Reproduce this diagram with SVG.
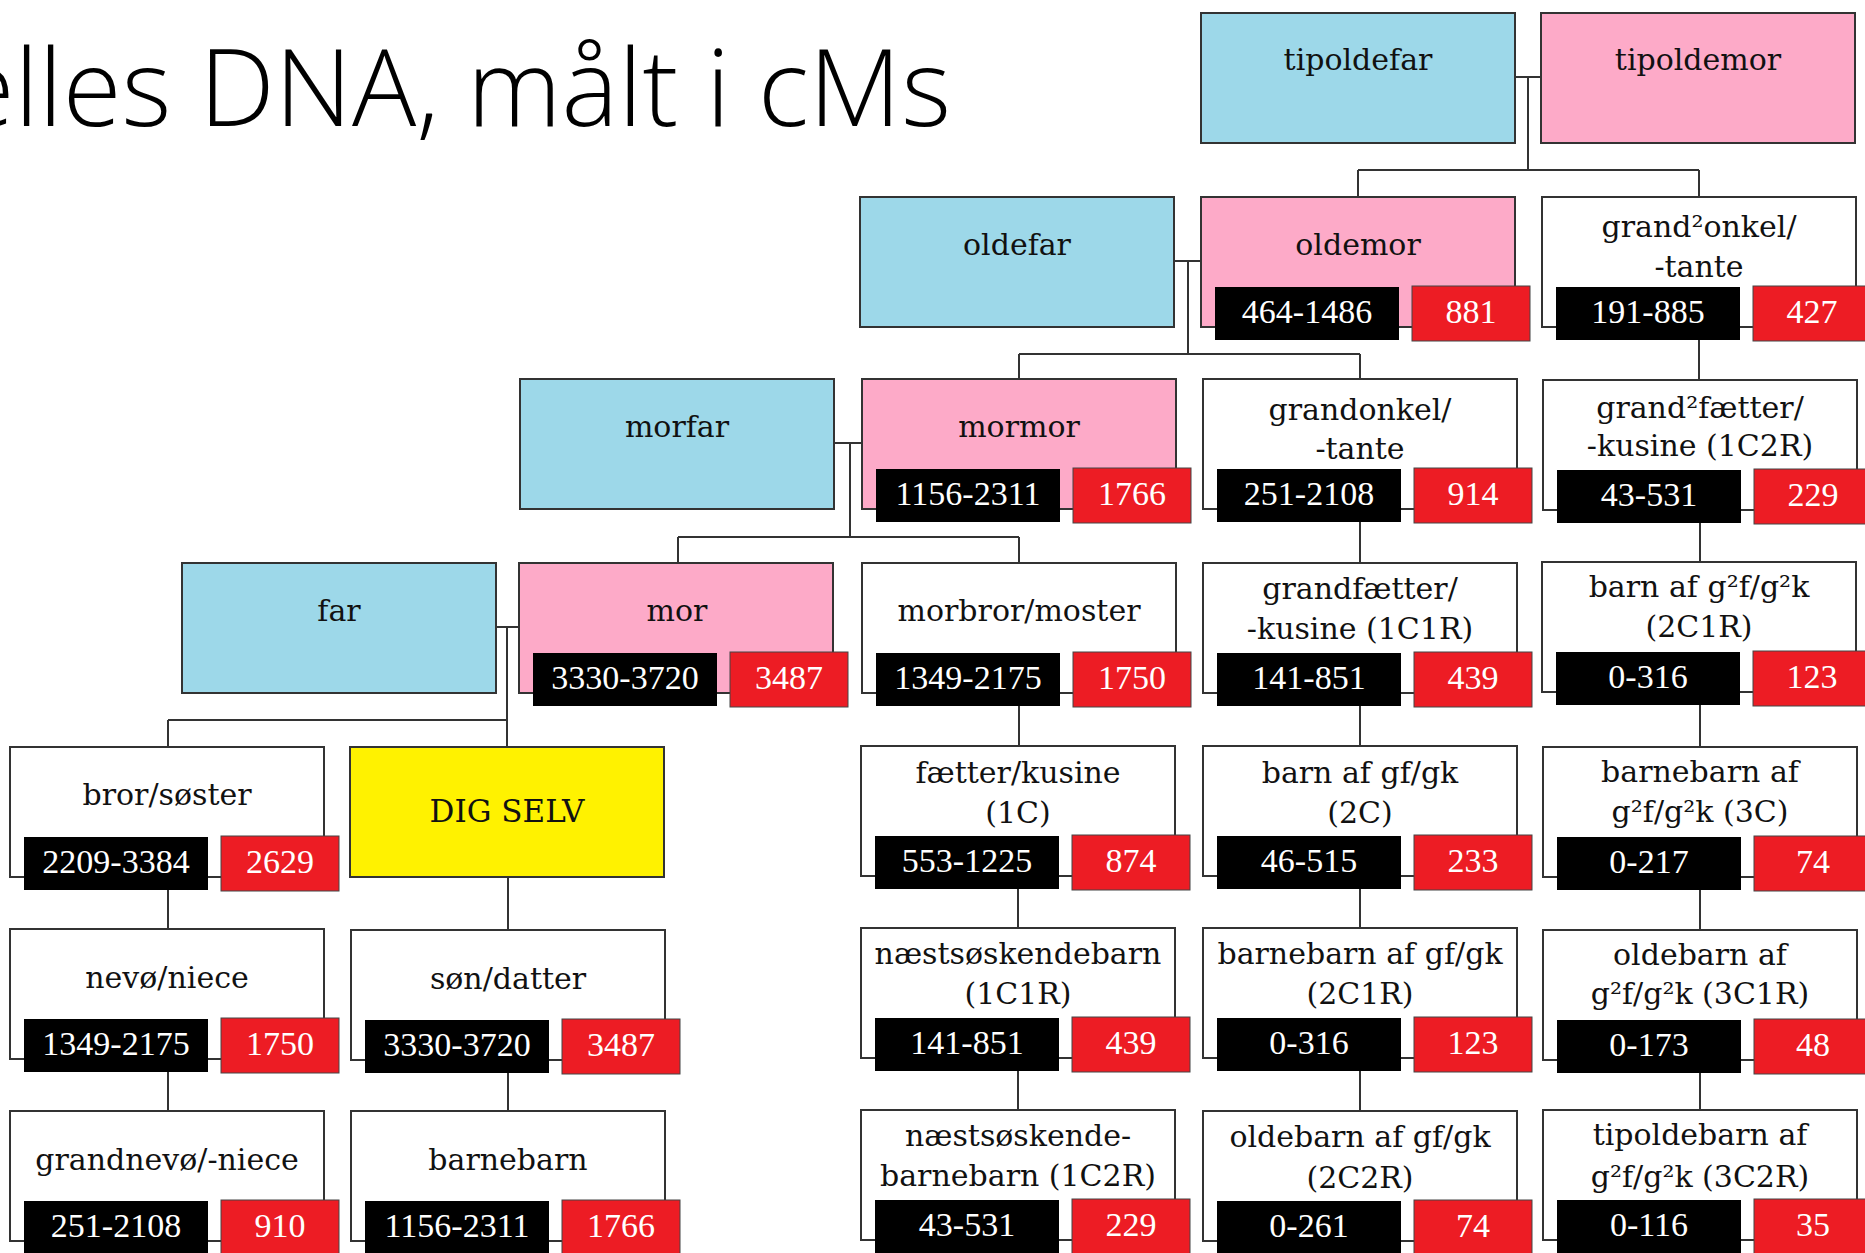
<svg xmlns="http://www.w3.org/2000/svg" width="1865" height="1253" viewBox="0 0 1865 1253">
<style>
.box{stroke:#333;stroke-width:2}
.blue{fill:#9dd8e9}
.pink{fill:#fdaac8}
.white{fill:#fff}
.yellow{fill:#fff200}
.bk{fill:#000}
.rd{fill:#ed1c24;stroke:#444;stroke-width:1}
.lbl{font-family:"DejaVu Serif",serif;font-size:30px;fill:#111;text-anchor:middle}
.num{font-family:"Liberation Serif",serif;font-size:34px;fill:#fff;text-anchor:middle}
.con{stroke:#333;stroke-width:2;fill:none}
.title{font-family:"Open Sans","Liberation Sans",sans-serif;font-weight:300;font-size:107px;fill:#000;text-anchor:end}
</style>
<rect width="1865" height="1253" fill="#fff"/>
<text class="title" x="951" y="126">elles DNA, målt i cMs</text>

<g id="connectors" class="con">
<path d="M1515,77 H1541 M1528,77 V170 M1358,170 H1699 M1358,170 V197 M1699,170 V197"/>
<path d="M1174,261 H1201 M1188,261 V354 M1019,354 H1360 M1019,354 V379 M1360,354 V379"/>
<path d="M834,443 H862 M850,443 V537 M678,537 H1019 M678,537 V563 M1019,537 V563"/>
<path d="M496,627 H519 M507,627 V747 M168,720 H507 M168,720 V747"/>
<path d="M168,877 V929 M168,1059 V1111"/>
<path d="M508,877 V930 M508,1060 V1111"/>
<path d="M1019,693 V746 M1018,876 V928 M1018,1058 V1110"/>
<path d="M1360,509 V563 M1360,693 V746 M1360,876 V928 M1360,1058 V1111"/>
<path d="M1699,327 V380 M1700,510 V562 M1700,692 V747 M1700,877 V930 M1700,1060 V1110"/>
</g>

<g id="tipoldefar"><rect class="box blue" x="1201" y="13" width="314" height="130"/><text class="lbl" x="1358" y="70">tipoldefar</text></g>
<g id="tipoldemor"><rect class="box pink" x="1541" y="13" width="314" height="130"/><text class="lbl" x="1698" y="70">tipoldemor</text></g>

<g id="oldefar"><rect class="box blue" x="860" y="197" width="314" height="130"/><text class="lbl" x="1017" y="255">oldefar</text></g>
<g id="oldemor"><rect class="box pink" x="1201" y="197" width="314" height="130"/><text class="lbl" x="1358" y="255">oldemor</text>
<rect class="bk" x="1215" y="287" width="184" height="53"/><text class="num" x="1307" y="323">464-1486</text>
<rect class="rd" x="1412" y="286" width="118" height="55"/><text class="num" x="1471" y="323">881</text></g>
<g id="grand2onkel"><rect class="box white" x="1542" y="197" width="314" height="130"/><text class="lbl" x="1699" y="237">grand²onkel/</text><text class="lbl" x="1699" y="277">-tante</text>
<rect class="bk" x="1556" y="287" width="184" height="53"/><text class="num" x="1648" y="323">191-885</text>
<rect class="rd" x="1753" y="286" width="118" height="55"/><text class="num" x="1812" y="323">427</text></g>

<g id="morfar"><rect class="box blue" x="520" y="379" width="314" height="130"/><text class="lbl" x="677" y="437">morfar</text></g>
<g id="mormor"><rect class="box pink" x="862" y="379" width="314" height="130"/><text class="lbl" x="1019" y="437">mormor</text>
<rect class="bk" x="876" y="469" width="184" height="53"/><text class="num" x="968" y="505">1156-2311</text>
<rect class="rd" x="1073" y="468" width="118" height="55"/><text class="num" x="1132" y="505">1766</text></g>
<g id="grandonkel"><rect class="box white" x="1203" y="379" width="314" height="130"/><text class="lbl" x="1360" y="420">grandonkel/</text><text class="lbl" x="1360" y="459">-tante</text>
<rect class="bk" x="1217" y="469" width="184" height="53"/><text class="num" x="1309" y="505">251-2108</text>
<rect class="rd" x="1414" y="468" width="118" height="55"/><text class="num" x="1473" y="505">914</text></g>
<g id="grand2faetter"><rect class="box white" x="1543" y="380" width="314" height="130"/><text class="lbl" x="1700" y="418">grand²fætter/</text><text class="lbl" x="1700" y="456">-kusine (1C2R)</text>
<rect class="bk" x="1557" y="470" width="184" height="53"/><text class="num" x="1649" y="506">43-531</text>
<rect class="rd" x="1754" y="469" width="118" height="55"/><text class="num" x="1813" y="506">229</text></g>

<g id="far"><rect class="box blue" x="182" y="563" width="314" height="130"/><text class="lbl" x="339" y="621">far</text></g>
<g id="mor"><rect class="box pink" x="519" y="563" width="314" height="130"/><text class="lbl" x="677" y="621">mor</text>
<rect class="bk" x="533" y="653" width="184" height="53"/><text class="num" x="625" y="689">3330-3720</text>
<rect class="rd" x="730" y="652" width="118" height="55"/><text class="num" x="789" y="689">3487</text></g>
<g id="morbror"><rect class="box white" x="862" y="563" width="314" height="130"/><text class="lbl" x="1019" y="621">morbror/moster</text>
<rect class="bk" x="876" y="653" width="184" height="53"/><text class="num" x="968" y="689">1349-2175</text>
<rect class="rd" x="1073" y="652" width="118" height="55"/><text class="num" x="1132" y="689">1750</text></g>
<g id="grandfaetter"><rect class="box white" x="1203" y="563" width="314" height="130"/><text class="lbl" x="1360" y="599">grandfætter/</text><text class="lbl" x="1360" y="639">-kusine (1C1R)</text>
<rect class="bk" x="1217" y="653" width="184" height="53"/><text class="num" x="1309" y="689">141-851</text>
<rect class="rd" x="1414" y="652" width="118" height="55"/><text class="num" x="1473" y="689">439</text></g>
<g id="barn-g2f"><rect class="box white" x="1542" y="562" width="314" height="130"/><text class="lbl" x="1699" y="597">barn af g²f/g²k</text><text class="lbl" x="1699" y="637">(2C1R)</text>
<rect class="bk" x="1556" y="652" width="184" height="53"/><text class="num" x="1648" y="688">0-316</text>
<rect class="rd" x="1753" y="651" width="118" height="55"/><text class="num" x="1812" y="688">123</text></g>

<g id="bror"><rect class="box white" x="10" y="747" width="314" height="130"/><text class="lbl" x="167" y="805">bror/søster</text>
<rect class="bk" x="24" y="837" width="184" height="53"/><text class="num" x="116" y="873">2209-3384</text>
<rect class="rd" x="221" y="836" width="118" height="55"/><text class="num" x="280" y="873">2629</text></g>
<g id="digselv"><rect class="box yellow" x="350" y="747" width="314" height="130"/><text class="lbl" x="507" y="822" style="font-size:31px">DIG SELV</text></g>
<g id="faetter"><rect class="box white" x="861" y="746" width="314" height="130"/><text class="lbl" x="1018" y="783">fætter/kusine</text><text class="lbl" x="1018" y="823">(1C)</text>
<rect class="bk" x="875" y="836" width="184" height="53"/><text class="num" x="967" y="872">553-1225</text>
<rect class="rd" x="1072" y="835" width="118" height="55"/><text class="num" x="1131" y="872">874</text></g>
<g id="barn-gf"><rect class="box white" x="1203" y="746" width="314" height="130"/><text class="lbl" x="1360" y="783">barn af gf/gk</text><text class="lbl" x="1360" y="823">(2C)</text>
<rect class="bk" x="1217" y="836" width="184" height="53"/><text class="num" x="1309" y="872">46-515</text>
<rect class="rd" x="1414" y="835" width="118" height="55"/><text class="num" x="1473" y="872">233</text></g>
<g id="barnebarn-g2f"><rect class="box white" x="1543" y="747" width="314" height="130"/><text class="lbl" x="1700" y="782">barnebarn af</text><text class="lbl" x="1700" y="822">g²f/g²k (3C)</text>
<rect class="bk" x="1557" y="837" width="184" height="53"/><text class="num" x="1649" y="873">0-217</text>
<rect class="rd" x="1754" y="836" width="118" height="55"/><text class="num" x="1813" y="873">74</text></g>

<g id="nevo"><rect class="box white" x="10" y="929" width="314" height="130"/><text class="lbl" x="167" y="988">nevø/niece</text>
<rect class="bk" x="24" y="1019" width="184" height="53"/><text class="num" x="116" y="1055">1349-2175</text>
<rect class="rd" x="221" y="1018" width="118" height="55"/><text class="num" x="280" y="1055">1750</text></g>
<g id="son"><rect class="box white" x="351" y="930" width="314" height="130"/><text class="lbl" x="508" y="989">søn/datter</text>
<rect class="bk" x="365" y="1020" width="184" height="53"/><text class="num" x="457" y="1056">3330-3720</text>
<rect class="rd" x="562" y="1019" width="118" height="55"/><text class="num" x="621" y="1056">3487</text></g>
<g id="naestsoskendebarn"><rect class="box white" x="861" y="928" width="314" height="130"/><text class="lbl" x="1018" y="964">næstsøskendebarn</text><text class="lbl" x="1018" y="1004">(1C1R)</text>
<rect class="bk" x="875" y="1018" width="184" height="53"/><text class="num" x="967" y="1054">141-851</text>
<rect class="rd" x="1072" y="1017" width="118" height="55"/><text class="num" x="1131" y="1054">439</text></g>
<g id="barnebarn-gf"><rect class="box white" x="1203" y="928" width="314" height="130"/><text class="lbl" x="1360" y="964">barnebarn af gf/gk</text><text class="lbl" x="1360" y="1004">(2C1R)</text>
<rect class="bk" x="1217" y="1018" width="184" height="53"/><text class="num" x="1309" y="1054">0-316</text>
<rect class="rd" x="1414" y="1017" width="118" height="55"/><text class="num" x="1473" y="1054">123</text></g>
<g id="oldebarn-g2f"><rect class="box white" x="1543" y="930" width="314" height="130"/><text class="lbl" x="1700" y="965">oldebarn af</text><text class="lbl" x="1700" y="1004">g²f/g²k (3C1R)</text>
<rect class="bk" x="1557" y="1020" width="184" height="53"/><text class="num" x="1649" y="1056">0-173</text>
<rect class="rd" x="1754" y="1019" width="118" height="55"/><text class="num" x="1813" y="1056">48</text></g>

<g id="grandnevo"><rect class="box white" x="10" y="1111" width="314" height="130"/><text class="lbl" x="167" y="1170">grandnevø/-niece</text>
<rect class="bk" x="24" y="1201" width="184" height="53"/><text class="num" x="116" y="1237">251-2108</text>
<rect class="rd" x="221" y="1200" width="118" height="55"/><text class="num" x="280" y="1237">910</text></g>
<g id="barnebarn"><rect class="box white" x="351" y="1111" width="314" height="130"/><text class="lbl" x="508" y="1170">barnebarn</text>
<rect class="bk" x="365" y="1201" width="184" height="53"/><text class="num" x="457" y="1237">1156-2311</text>
<rect class="rd" x="562" y="1200" width="118" height="55"/><text class="num" x="621" y="1237">1766</text></g>
<g id="naestsoskende-barnebarn"><rect class="box white" x="861" y="1110" width="314" height="130"/><text class="lbl" x="1018" y="1146">næstsøskende-</text><text class="lbl" x="1018" y="1186">barnebarn (1C2R)</text>
<rect class="bk" x="875" y="1200" width="184" height="53"/><text class="num" x="967" y="1236">43-531</text>
<rect class="rd" x="1072" y="1199" width="118" height="55"/><text class="num" x="1131" y="1236">229</text></g>
<g id="oldebarn-gf"><rect class="box white" x="1203" y="1111" width="314" height="130"/><text class="lbl" x="1360" y="1147">oldebarn af gf/gk</text><text class="lbl" x="1360" y="1188">(2C2R)</text>
<rect class="bk" x="1217" y="1201" width="184" height="53"/><text class="num" x="1309" y="1237">0-261</text>
<rect class="rd" x="1414" y="1200" width="118" height="55"/><text class="num" x="1473" y="1237">74</text></g>
<g id="tipoldebarn-g2f"><rect class="box white" x="1543" y="1110" width="314" height="130"/><text class="lbl" x="1700" y="1145">tipoldebarn af</text><text class="lbl" x="1700" y="1187">g²f/g²k (3C2R)</text>
<rect class="bk" x="1557" y="1200" width="184" height="53"/><text class="num" x="1649" y="1236">0-116</text>
<rect class="rd" x="1754" y="1199" width="118" height="55"/><text class="num" x="1813" y="1236">35</text></g>
</svg>
